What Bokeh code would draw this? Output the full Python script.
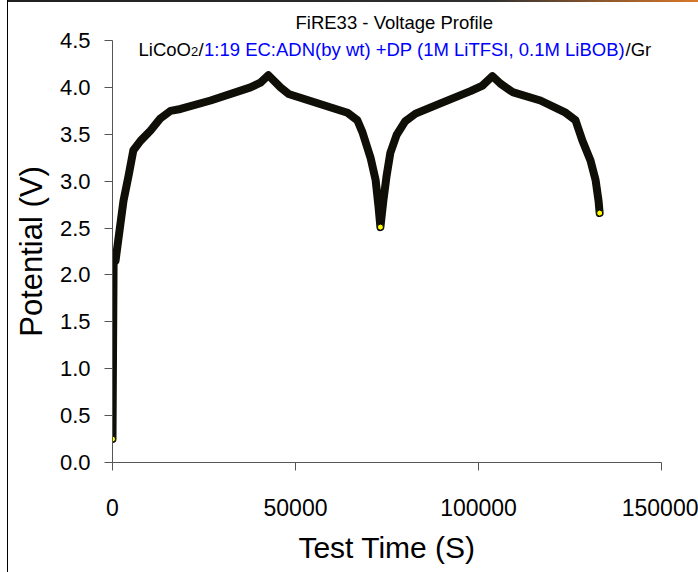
import numpy as np
from bokeh.plotting import figure
from bokeh.models import Label, FixedTicker, NumeralTickFormatter, Range1d, ColumnDataSource
from bokeh.embed import file_html
from bokeh.resources import INLINE

# ---- data (Test Time in s, Potential in V) ----
t_s = [0, 150, 300, 820, 3000, 4400, 5700, 7650, 10400, 13100, 15850, 18600,
       26800, 37700, 40400, 42600, 45900, 48100, 64200, 66900, 68300, 70500,
       71900, 72700, 73200,
       74000, 74900, 75900, 77600, 80000, 82800, 89600, 97800, 101100, 103800,
       106000, 109300, 116900, 123800, 126500, 128400, 130600, 132000, 132800, 133100]
v_V = [0.25, 1.20, 2.13, 2.15, 2.79, 3.06, 3.33, 3.43, 3.54, 3.67, 3.75, 3.77,
       3.86, 4.00, 4.05, 4.13, 4.00, 3.93, 3.73, 3.65, 3.52, 3.25,
       3.01, 2.72, 2.51,
       2.79, 3.06, 3.30, 3.49, 3.64, 3.72, 3.83, 3.96, 4.02, 4.12,
       4.04, 3.95, 3.86, 3.73, 3.65, 3.43, 3.22, 3.01, 2.79, 2.66]

x_ticks = [0, 50000, 100000, 150000]
y_ticks = [0.0, 0.5, 1.0, 1.5, 2.0, 2.5, 3.0, 3.5, 4.0, 4.5]

title_text = "FiRE33 - Voltage Profile"
sub_black_1 = "LiCoO"
sub_sub = "2"
sub_black_2 = "/"
sub_blue = "1:19 EC:ADN(by wt) +DP (1M LiTFSI, 0.1M LiBOB)"
sub_black_3 = "/Gr"

FONT = "Liberation Sans"

p = figure(width=698, height=572, output_backend="svg", toolbar_location=None,
           x_range=Range1d(0, 150000), y_range=Range1d(0, 4.5),
           min_border_left=112, min_border_right=37, min_border_top=40, min_border_bottom=110)
p.background_fill_color = "white"
p.border_fill_color = None
p.outline_line_color = None
p.xgrid.visible = False
p.ygrid.visible = False
# slide frame lines (left edge and top edge of the original slide picture)
p.styles = {
    "background": ("linear-gradient(#000000, #000000) 7px 0px / 1px 100% no-repeat, "
                   "linear-gradient(to right, #202020 0%, #303030 70%, #d9782a 100%) 7px 0px / 691px 2px no-repeat, "
                   "#ffffff")
}

p.title.text = title_text
p.title.text_font = FONT
p.title.text_font_size = "18.5px"
p.title.text_font_style = "normal"
p.title.text_color = "black"
p.title.align = "left"
p.title.offset = 183
p.title.standoff = 16

src = ColumnDataSource(dict(t=t_s, v=v_V))
p.line("t", "v", source=src, line_color="#0f0f08", line_width=8, line_join="round", line_cap="round")

# end-of-step points (yellow markers visible at the ends of each step)
v_arr = np.array(v_V)
mid = int(np.argmin(v_arr[5:-5])) + 5
ends = [0, mid, len(t_s) - 1]
p.scatter([t_s[i] for i in ends], [v_V[i] for i in ends], size=6,
          fill_color="yellow", line_color="black", line_width=1)

for ax in (p.xaxis[0], p.yaxis[0]):
    ax.axis_line_color = "#555555"
    ax.major_tick_line_color = "#555555"
    ax.minor_tick_line_color = None
    ax.major_tick_in = 0
    ax.major_tick_out = 8
    ax.major_label_text_font = FONT
    ax.major_label_text_color = "black"
    ax.axis_label_text_font = FONT
    ax.axis_label_text_font_style = "normal"
    ax.axis_label_text_color = "black"

p.xaxis.ticker = FixedTicker(ticks=x_ticks)
p.xaxis.formatter = NumeralTickFormatter(format="0")
p.xaxis.major_label_text_font_size = "23px"
p.xaxis.major_label_standoff = 28
p.xaxis.axis_label = "Test Time (S)"
p.xaxis.axis_label_text_font_size = "30px"
p.xaxis.axis_label_standoff = 12

p.yaxis.ticker = FixedTicker(ticks=y_ticks)
p.yaxis.formatter = NumeralTickFormatter(format="0.0")
p.yaxis.major_label_text_font_size = "22px"
p.yaxis.major_label_standoff = 14
p.yaxis.axis_label = "Potential (V)"
p.yaxis.axis_label_text_font_size = "31px"
p.yaxis.axis_label_standoff = 8

# pixel -> data helpers for annotation placement (frame: x 112..661, y 40..462)
def dx(px):
    return (px - 112) / 549.0 * 150000

def dy(py):
    return (462 - py) / 422.0 * 4.5

BASE = 48.5
p.add_layout(Label(x=dx(138), y=dy(BASE), text=sub_black_1, text_align="left",
                   text_baseline="alphabetic", text_font=FONT, text_font_size="18.5px",
                   text_color="black"))
p.add_layout(Label(x=dx(190.5), y=dy(BASE + 2), text=sub_sub, text_align="left",
                   text_baseline="alphabetic", text_font=FONT, text_font_size="13px",
                   text_color="black"))
p.add_layout(Label(x=dx(198), y=dy(BASE), text=sub_black_2, text_align="left",
                   text_baseline="alphabetic", text_font=FONT, text_font_size="18.5px",
                   text_color="black"))
p.add_layout(Label(x=dx(203.5), y=dy(BASE), text=sub_blue, text_align="left",
                   text_baseline="alphabetic", text_font=FONT, text_font_size="18.5px",
                   text_color="#0000ff"))
p.add_layout(Label(x=dx(625), y=dy(BASE), text=sub_black_3, text_align="left",
                   text_baseline="alphabetic", text_font=FONT, text_font_size="18.5px",
                   text_color="black"))

open("out.html", "w").write(file_html(p, INLINE))
